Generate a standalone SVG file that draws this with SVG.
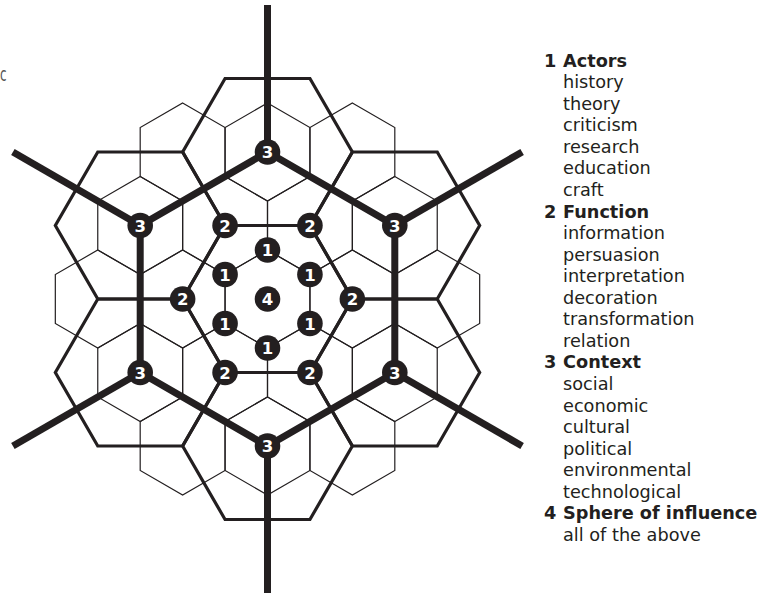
<svg xmlns="http://www.w3.org/2000/svg" xmlns:xlink="http://www.w3.org/1999/xlink" width="765" height="594" viewBox="0 0 765 594">
<style>
.thin{fill:none;stroke:#231f20;stroke-width:1.2;stroke-linejoin:miter}
.mid{fill:none;stroke:#231f20;stroke-width:3.2;stroke-linejoin:miter}
.thick{fill:none;stroke:#231f20;stroke-width:7;stroke-linecap:butt;stroke-linejoin:miter}
.badge circle{fill:#231f20}
.badge text{fill:#ffffff;font-family:"DejaVu Sans",Verdana,sans-serif;font-weight:bold;font-size:16.5px;text-anchor:middle}
.leg{fill:#231f20;font-family:"DejaVu Sans",Verdana,sans-serif;font-size:17.7px}
.leg .h{font-weight:bold}
</style>
<defs>
<polygon id="cell" points="0,-49 42.44,-24.5 42.44,24.5 0,49 -42.44,24.5 -42.44,-24.5"/>
<polygon id="mhex" points="84.87,0 42.44,73.5 -42.44,73.5 -84.87,0 -42.44,-73.5 42.44,-73.5"/>
</defs>
<rect width="765" height="594" fill="#ffffff"/>
<text transform="translate(0,81) scale(0.6,1)" font-family="'DejaVu Sans',sans-serif" font-size="20" fill="#555555">c</text>
<g id="connectors">
<g id="grid" class="thin">
<use xlink:href="#cell" x="182.63" y="152"/>
<use xlink:href="#cell" x="267.5" y="152"/>
<use xlink:href="#cell" x="352.37" y="152"/>
<use xlink:href="#cell" x="140.2" y="225.5"/>
<use xlink:href="#cell" x="225.07" y="225.5"/>
<use xlink:href="#cell" x="309.93" y="225.5"/>
<use xlink:href="#cell" x="394.8" y="225.5"/>
<use xlink:href="#cell" x="97.76" y="299"/>
<use xlink:href="#cell" x="182.63" y="299"/>
<use xlink:href="#cell" x="267.5" y="299"/>
<use xlink:href="#cell" x="352.37" y="299"/>
<use xlink:href="#cell" x="437.24" y="299"/>
<use xlink:href="#cell" x="140.2" y="372.5"/>
<use xlink:href="#cell" x="225.07" y="372.5"/>
<use xlink:href="#cell" x="309.93" y="372.5"/>
<use xlink:href="#cell" x="394.8" y="372.5"/>
<use xlink:href="#cell" x="182.63" y="446"/>
<use xlink:href="#cell" x="267.5" y="446"/>
<use xlink:href="#cell" x="352.37" y="446"/>
</g>
<g id="rings" class="mid">
<use xlink:href="#mhex" x="267.5" y="299"/>
<use xlink:href="#mhex" x="267.5" y="152"/>
<use xlink:href="#mhex" x="394.8" y="225.5"/>
<use xlink:href="#mhex" x="394.8" y="372.5"/>
<use xlink:href="#mhex" x="267.5" y="446"/>
<use xlink:href="#mhex" x="140.2" y="372.5"/>
<use xlink:href="#mhex" x="140.2" y="225.5"/>
</g>
<g id="axes" class="thick">
<polygon points="267.5,152 394.8,225.5 394.8,372.5 267.5,446 140.2,372.5 140.2,225.5"/>
<line x1="267.5" y1="152" x2="267.5" y2="5"/>
<line x1="394.8" y1="225.5" x2="522.1" y2="152"/>
<line x1="394.8" y1="372.5" x2="522.1" y2="446"/>
<line x1="267.5" y1="446" x2="267.5" y2="593"/>
<line x1="140.2" y1="372.5" x2="12.9" y2="446"/>
<line x1="140.2" y1="225.5" x2="12.9" y2="152"/>
</g>
</g>
<g id="n4" class="badge"><circle cx="267.5" cy="299" r="12.8"/><text x="267.5" y="305">4</text></g>
<g id="n1a" class="badge"><circle cx="267.5" cy="250" r="12.8"/><text x="267.5" y="256">1</text></g>
<g id="n1b" class="badge"><circle cx="309.93" cy="274.5" r="12.8"/><text x="309.93" y="280.5">1</text></g>
<g id="n1c" class="badge"><circle cx="309.93" cy="323.5" r="12.8"/><text x="309.93" y="329.5">1</text></g>
<g id="n1d" class="badge"><circle cx="267.5" cy="348" r="12.8"/><text x="267.5" y="354">1</text></g>
<g id="n1e" class="badge"><circle cx="225.07" cy="323.5" r="12.8"/><text x="225.07" y="329.5">1</text></g>
<g id="n1f" class="badge"><circle cx="225.07" cy="274.5" r="12.8"/><text x="225.07" y="280.5">1</text></g>
<g id="n2a" class="badge"><circle cx="225.07" cy="225.5" r="12.8"/><text x="225.07" y="231.5">2</text></g>
<g id="n2b" class="badge"><circle cx="309.93" cy="225.5" r="12.8"/><text x="309.93" y="231.5">2</text></g>
<g id="n2c" class="badge"><circle cx="352.37" cy="299" r="12.8"/><text x="352.37" y="305">2</text></g>
<g id="n2d" class="badge"><circle cx="309.93" cy="372.5" r="12.8"/><text x="309.93" y="378.5">2</text></g>
<g id="n2e" class="badge"><circle cx="225.07" cy="372.5" r="12.8"/><text x="225.07" y="378.5">2</text></g>
<g id="n2f" class="badge"><circle cx="182.63" cy="299" r="12.8"/><text x="182.63" y="305">2</text></g>
<g id="n3a" class="badge"><circle cx="267.5" cy="152" r="12.8"/><text x="267.5" y="158">3</text></g>
<g id="n3b" class="badge"><circle cx="394.8" cy="225.5" r="12.8"/><text x="394.8" y="231.5">3</text></g>
<g id="n3c" class="badge"><circle cx="394.8" cy="372.5" r="12.8"/><text x="394.8" y="378.5">3</text></g>
<g id="n3d" class="badge"><circle cx="267.5" cy="446" r="12.8"/><text x="267.5" y="452">3</text></g>
<g id="n3e" class="badge"><circle cx="140.2" cy="372.5" r="12.8"/><text x="140.2" y="378.5">3</text></g>
<g id="n3f" class="badge"><circle cx="140.2" cy="225.5" r="12.8"/><text x="140.2" y="231.5">3</text></g>
<g id="legend" class="leg">
<text class="h" y="66.7"><tspan x="544">1</tspan><tspan x="563">Actors</tspan></text>
<text x="563" y="88.25">history</text>
<text x="563" y="109.8">theory</text>
<text x="563" y="131.35">criticism</text>
<text x="563" y="152.9">research</text>
<text x="563" y="174.45">education</text>
<text x="563" y="196">craft</text>
<text class="h" y="217.55"><tspan x="544">2</tspan><tspan x="563">Function</tspan></text>
<text x="563" y="239.1">information</text>
<text x="563" y="260.65">persuasion</text>
<text x="563" y="282.2">interpretation</text>
<text x="563" y="303.75">decoration</text>
<text x="563" y="325.3">transformation</text>
<text x="563" y="346.85">relation</text>
<text class="h" y="368.4"><tspan x="544">3</tspan><tspan x="563">Context</tspan></text>
<text x="563" y="389.95">social</text>
<text x="563" y="411.5">economic</text>
<text x="563" y="433.05">cultural</text>
<text x="563" y="454.6">political</text>
<text x="563" y="476.15">environmental</text>
<text x="563" y="497.7">technological</text>
<text class="h" y="519.25"><tspan x="544">4</tspan><tspan x="563">Sphere of influence</tspan></text>
<text x="563" y="540.8">all of the above</text>
</g>
</svg>
